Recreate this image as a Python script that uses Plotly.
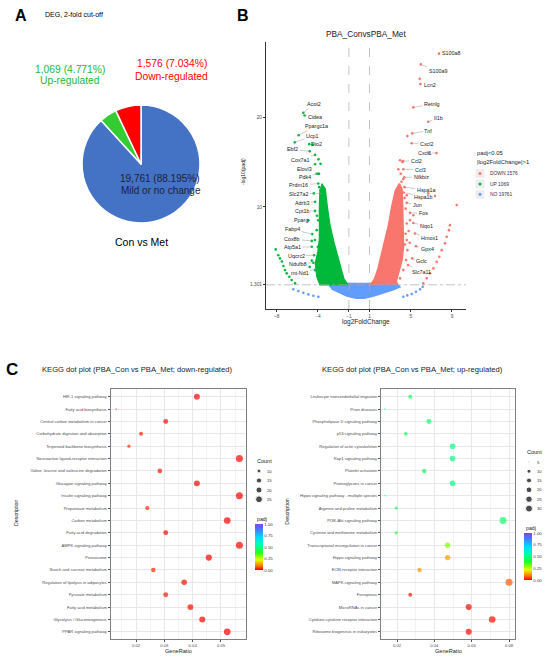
import plotly.graph_objects as go

W, H = 550, 657
FONT = "Liberation Sans, Arial, sans-serif"


def px(x):
    return x / W


def py(y):
    return 1 - y / H


# ---------------- A: DEG pie ----------------
pie_labels = ["Mild or no change", "Up-regulated", "Down-regulated"]
pie_values = [19761, 1069, 1576]
pie_pct = ["88.195%", "4.771%", "7.034%"]
pie_colors = ["#4472C4", "#33CC33", "#FF0000"]

# ---------------- B: volcano ----------------
red_gene_names = ["S100a8", "S100a9", "Lcn2", "Retnlg", "Il1b", "Tnf", "Cxcl2", "Cxcl1", "Ccl2", "Ccl3",
                  "Nfkbiz", "Hspa1a", "Hspa1b", "Jun", "Fos", "Nqo1", "Hmox1", "Gpx4", "Gclc", "Slc7a11"]
red_gene_x = [7.74, 5.97, 5.93, 5.25, 6.70, 5.15, 5.09, 7.50, 4.25, 4.28,
              4.38, 4.40, 4.30, 4.61, 4.93, 5.25, 5.41, 5.51, 5.15, 4.74]
red_gene_y = [27.1, 25.9, 23.7, 21.1, 19.5, 18.2, 17.1, 16.0, 15.1, 14.2,
              13.3, 12.2, 11.6, 10.45, 9.33, 8.2, 7.03, 5.6, 4.25, 3.5]

green_gene_names = ["Acot2", "Cidea", "Ppargc1a", "Ucp1", "Dio2", "Ebf2", "Cox7a1", "Elovl3", "Pdk4", "Prdm16",
                    "Slc27a2", "Adrb3", "Cpt1b", "Pparg", "Fabp4", "Cox8b", "Atp5a1", "Uqcrc2", "Ndufb8", "mt-Nd1"]
green_gene_x = [-5.42, -5.30, -5.87, -6.25, -4.84, -4.80, -4.28, -4.28, -3.97, -3.97,
                -3.54, -4.28, -4.28, -4.93, -4.55, -4.60, -4.60, -4.38, -4.45, -4.12]
green_gene_y = [20.5, 20.2, 18.0, 17.2, 17.0, 16.2, 15.8, 14.76, 13.7, 12.6,
                11.5, 10.56, 9.55, 8.5, 6.96, 6.2, 5.54, 4.6, 3.76, 3.1]

# sparse points
red_pts_x = [5.87, 4.67, 6.75, 3.96, 4.19, 3.80, 4.03, 4.28, 4.10, 6.70, 7.35, 4.61, 4.40, 4.50, 9.46,
             5.25, 4.93, 4.61, 4.80, 4.50, 4.90, 4.45, 4.61, 4.67, 4.54, 4.28, 3.96, 3.64,
             8.80, 8.71, 8.49, 8.33, 8.00, 7.77, 7.52, 7.20, 6.87, 6.55, 6.22]
red_pts_y = [24.3, 17.9, 16.0, 15.2, 15.0, 14.2, 13.7, 13.1, 12.8, 11.5, 11.2, 11.3, 11.0, 9.8, 10.2,
             9.07, 8.5, 8.15, 7.3, 7.0, 6.0, 5.8, 6.3, 5.17, 4.06, 2.94, 2.02, 1.46,
             7.96, 7.4, 6.65, 5.92, 5.17, 4.43, 3.87, 3.13, 2.58, 2.02, 1.46]
green_pts_x = [-4.51, -3.75, -3.95, -4.12, -3.90, -3.87, -4.40, -3.80, -4.10, -3.97, -4.12, -4.30,
               -4.02, -4.60, -4.80, -4.28, -3.97, -3.64,
               -8.10, -7.85, -7.68, -7.50, -7.35, -7.20, -7.03, -6.78, -6.55, -6.22]
green_pts_y = [16.96, 14.8, 15.3, 13.7, 13.7, 12.2, 11.5, 9.55, 9.0, 8.5, 7.4, 6.3,
               5.54, 4.0, 3.3, 2.94, 2.2, 1.46,
               5.25, 4.6, 4.25, 3.9, 3.4, 2.94, 2.58, 2.2, 1.83, 1.46]
blue_pts_x = [-6.39, -5.90, -5.42, -4.93, -4.45, -3.96, 4.28, 4.67, 5.09, 5.51, 5.90, 6.16]
blue_pts_y = [0.80, 0.60, 0.41, 0.23, 0.08, -0.03, -0.03, 0.12, 0.27, 0.53, 0.80, 1.08]

# outlines of the dense point clouds
green_cloud_x = [-3.65, -3.30, -3.10, -2.85, -2.45, -2.10, -1.80, -1.50, -1.10, -3.80, -4.10, -4.25,
                 -4.00, -3.85, -3.85, -3.80]
green_cloud_y = [12.6, 12.0, 10.0, 8.0, 6.0, 4.5, 3.0, 2.0, 1.3, 1.3, 2.2, 3.7, 5.0, 6.5, 10.0, 12.0]
red_cloud_x = [1.10, 1.50, 1.80, 2.10, 2.45, 2.85, 3.15, 3.50, 3.90, 4.15, 4.22, 4.30, 4.30, 4.15, 3.80, 3.50]
red_cloud_y = [1.3, 2.0, 3.0, 4.5, 6.0, 8.0, 10.0, 11.8, 12.6, 12.0, 10.0, 7.5, 5.5, 4.0, 2.5, 1.3]
blue_cloud_x = [-2.90, -2.65, 3.65, 3.95, 3.30, 2.40, 1.40, 0.50, -0.30, -1.20, -2.00, -2.70]
blue_cloud_y = [1.10, 1.45, 1.45, 1.05, 0.75, 0.40, 0.05, -0.20, -0.20, 0.05, 0.45, 0.85]

volcano_legend = ["DOWN 1576", "UP 1069", "NO 19761"]
volcano_colors = ["#F8766D", "#00B83A", "#619CFF"]

# ---------------- C: KEGG dot plots ----------------
down_terms = ["HIF-1 signaling pathway", "Fatty acid biosynthesis", "Central carbon metabolism in cancer",
              "Carbohydrate digestion and absorption", "Terpenoid backbone biosynthesis",
              "Neuroactive ligand-receptor interaction", "Valine, leucine and isoleucine degradation",
              "Glucagon signaling pathway", "Insulin signaling pathway", "Propanoate metabolism",
              "Carbon metabolism", "Fatty acid degradation", "AMPK signaling pathway", "Peroxisome",
              "Starch and sucrose metabolism", "Regulation of lipolysis in adipocytes", "Pyruvate metabolism",
              "Fatty acid metabolism", "Glycolysis / Gluconeogenesis", "PPAR signaling pathway"]
down_ratio = [0.0415, 0.0130, 0.0305, 0.0218, 0.0175, 0.0565, 0.0284, 0.0415, 0.0565, 0.0240,
              0.0522, 0.0305, 0.0565, 0.0457, 0.0261, 0.0370, 0.0305, 0.0392, 0.0434, 0.0522]
down_count = [19, 6, 14, 10, 8, 26, 13, 19, 26, 11, 24, 14, 26, 21, 12, 17, 14, 18, 20, 24]
down_padj = [0.004, 0.03, 0.01, 0.02, 0.03, 0.001, 0.02, 0.003, 0.0005, 0.03,
             0.0002, 0.01, 0.0003, 0.002, 0.03, 0.01, 0.02, 0.005, 0.002, 0.0001]

up_terms = ["Leukocyte transendothelial migration", "Prion diseases", "Phospholipase D signaling pathway",
            "p53 signaling pathway", "Regulation of actin cytoskeleton", "Rap1 signaling pathway",
            "Platelet activation", "Proteoglycans in cancer", "Hippo signaling pathway - multiple species",
            "Arginine and proline metabolism", "PI3K-Akt signaling pathway", "Cysteine and methionine metabolism",
            "Transcriptional misregulation in cancer", "Hippo signaling pathway", "ECM-receptor interaction",
            "MAPK signaling pathway", "Ferroptosis", "MicroRNAs in cancer", "Cytokine-cytokine receptor interaction",
            "Ribosome biogenesis in eukaryotes"]
up_ratio = [0.0271, 0.0135, 0.0371, 0.0247, 0.0498, 0.0498, 0.0346, 0.0498, 0.0135, 0.0196,
            0.0768, 0.0196, 0.0471, 0.0471, 0.0321, 0.0800, 0.0271, 0.0584, 0.0710, 0.0584]
up_count = [10, 5, 14, 9, 19, 19, 13, 19, 5, 7, 29, 7, 18, 18, 12, 30, 10, 22, 27, 22]
up_padj = [0.47, 0.55, 0.47, 0.47, 0.50, 0.50, 0.47, 0.50, 0.55, 0.45,
           0.47, 0.42, 0.30, 0.13, 0.12, 0.07, 0.02, 0.01, 0.01, 0.005]

down_size_legend = [10, 15, 20, 25]
up_size_legend = [5, 10, 15, 20, 25, 30]
padj_ticks = [0, 0.25, 0.5, 0.75, 1.0]

RAINBOW = [[0, "#FF0000"], [0.1, "#FF8000"], [0.22, "#E0FF00"], [0.38, "#20FF20"],
           [0.55, "#00FFB0"], [0.72, "#00D8FF"], [0.87, "#4080FF"], [1, "#8040FF"]]


def dot_size(c, cmin, cmax, dmin=1.5, dmax=7.0):
    # ggplot-style area scale
    return dmin + (dmax - dmin) * ((c - cmin) / (cmax - cmin)) ** 0.5


fig = go.Figure()

# ---- pie
fig.add_trace(go.Pie(
    labels=pie_labels, values=pie_values, sort=False, direction="clockwise", rotation=0,
    marker=dict(colors=pie_colors, line=dict(color="white", width=1.5)),
    textinfo="none", hoverinfo="skip", showlegend=False,
    domain=dict(x=[px(82), px(200)], y=[py(223), py(105)]),
))

# ---- volcano clouds + points
for cx, cy, col in [(blue_cloud_x, blue_cloud_y, volcano_colors[2]),
                    (green_cloud_x, green_cloud_y, volcano_colors[1]),
                    (red_cloud_x, red_cloud_y, volcano_colors[0])]:
    fig.add_trace(go.Scatter(x=cx, y=cy, fill="toself", mode="lines", fillcolor=col,
                             line=dict(color=col, width=1.5), hoverinfo="skip", showlegend=False,
                             xaxis="x", yaxis="y"))

for xs, ys, col in [(blue_pts_x, blue_pts_y, volcano_colors[2]),
                    (green_pts_x + green_gene_x, green_pts_y + green_gene_y, volcano_colors[1]),
                    (red_pts_x + red_gene_x, red_pts_y + red_gene_y, volcano_colors[0])]:
    fig.add_trace(go.Scatter(x=xs, y=ys, mode="markers", marker=dict(color=col, size=2.6),
                             hoverinfo="skip", showlegend=False, xaxis="x", yaxis="y"))

# ---- KEGG dot plots
for terms, ratio, count, padj, ax, ay, cbx, cby, cblen, sizes in [
    (down_terms, down_ratio, down_count, down_padj, "x2", "y2", 254.5, 570, 46, (min(down_count), max(down_count))),
    (up_terms, up_ratio, up_count, up_padj, "x3", "y3", 524.3, 580, 47, (min(up_count), max(up_count))),
]:
    fig.add_trace(go.Scatter(
        x=ratio, y=terms, mode="markers", xaxis=ax, yaxis=ay, showlegend=False, hoverinfo="skip",
        marker=dict(size=[dot_size(c, *sizes) for c in count], color=padj, cmin=0, cmax=1,
                    colorscale=RAINBOW, showscale=True, line=dict(width=0),
                    colorbar=dict(x=px(cbx), xanchor="left", y=py(cby), yanchor="bottom",
                                  len=cblen / H, lenmode="fraction", thickness=7.5, thicknessmode="pixels",
                                  xpad=0, ypad=0, outlinewidth=0, ticks="",
                                  tickvals=padj_ticks, ticktext=[f"{v:.2f}" for v in padj_ticks],
                                  tickfont=dict(size=4.3, color="#333", family=FONT))),
    ))

# ---- legend keys (overlay in pixel coordinates)
leg_x = [480, 480, 480]
leg_y = [173.5, 184, 194.3]
fig.add_trace(go.Scatter(x=leg_x, y=leg_y, mode="markers", xaxis="x4", yaxis="y4",
                         marker=dict(symbol="square", size=9, color="#EDEDED"),
                         hoverinfo="skip", showlegend=False))
fig.add_trace(go.Scatter(x=leg_x, y=leg_y, mode="markers", xaxis="x4", yaxis="y4",
                         marker=dict(size=3, color=volcano_colors), hoverinfo="skip", showlegend=False))
fig.add_trace(go.Scatter(x=[259] * len(down_size_legend), y=[471, 480.5, 490, 499.3], mode="markers",
                         xaxis="x4", yaxis="y4", hoverinfo="skip", showlegend=False,
                         marker=dict(color="black", size=[dot_size(c, min(down_count), max(down_count))
                                                          for c in down_size_legend])))
fig.add_trace(go.Scatter(x=[529] * len(up_size_legend), y=[462, 471.3, 480.5, 489.8, 499.2, 508.6], mode="markers",
                         xaxis="x4", yaxis="y4", hoverinfo="skip", showlegend=False,
                         marker=dict(color="black", size=[dot_size(c, min(up_count), max(up_count))
                                                          for c in up_size_legend])))

# ---- annotations
ann = []


def text(t, x, y, size, color="#222", xanchor="center", **kw):
    ann.append(dict(text=t, x=px(x), y=py(y), xref="paper", yref="paper", showarrow=False,
                    xanchor=xanchor, yanchor="middle", font=dict(size=size, color=color, family=FONT), **kw))


text("<b>A</b>", 21, 15.5, 16, "black")
text("<b>B</b>", 243, 15.5, 16, "black")
text("<b>C</b>", 11.5, 369, 17, "black")
text("DEG, 2-fold cut-off", 43, 14.7, 7, "black", xanchor="left")

text(f"{pie_values[1]:,} ({pie_pct[1]})", 70, 69.3, 10.3, "#22B83A")
text(pie_labels[1], 70, 80.7, 10.3, "#22B83A")
text(f"{pie_values[2]:,} ({pie_pct[2]})", 171.7, 63.3, 10.3, "#FF0000")
text(pie_labels[2], 171.7, 76.3, 10.3, "#FF0000")
text(f"{pie_values[0]:,} ({pie_pct[0]})", 159.5, 178, 10, "#1B2340")
text(pie_labels[0], 160.5, 191, 10, "#1B2340")
text("Con vs Met", 141, 242, 10.5, "black")

text("PBA_ConvsPBA_Met", 366, 34, 8.3, "#222")
text("log2FoldChange", 366, 322, 6.5, "#222")
text("-log10(padj)", 243, 172, 5, "#222", textangle=-90)
text("padj<0.05", 475, 153, 5.8, "#222", xanchor="left")
text("|log2FoldChange|>1", 475, 162, 5.8, "#222", xanchor="left")
for lab, yy in zip(volcano_legend, leg_y):
    text(lab, 488, yy, 4.9, "#333", xanchor="left")

text("KEGG dot plot (PBA_Con vs PBA_Met; down-regulated)", 137, 369, 7.6, "#222")
text("KEGG dot plot (PBA_Con vs PBA_Met; up-regulated)", 412.5, 369, 7.6, "#222")
text("GeneRatio", 178, 650.5, 5.6, "#222")
text("GeneRatio", 448, 650.5, 5.6, "#222")
text("Description", 16, 513, 5.3, "#222", textangle=-90)
text("Description", 286.7, 511, 5.3, "#222", textangle=-90)
text("Count", 255, 461, 5.5, "#222", xanchor="left")
for c, yy in zip(down_size_legend, [471, 480.5, 490, 499.3]):
    text(str(c), 265, yy, 4.2, "#333", xanchor="left")
text("Count", 525, 452.3, 5.5, "#222", xanchor="left")
for c, yy in zip(up_size_legend, [462, 471.3, 480.5, 489.8, 499.2, 508.6]):
    text(str(c), 535, yy, 4.2, "#333", xanchor="left")
text("padj", 254.5, 518.5, 5.2, "#222", xanchor="left")
text("padj", 524.3, 527.5, 5.2, "#222", xanchor="left")

# gene labels (label centres in data units)
red_label_pos = [(8.93, 27.17), (7.65, 25.13), (6.82, 23.57), (7.06, 21.48), (7.69, 19.92), (6.72, 18.52),
                 (6.53, 17.07), (6.29, 16.02), (5.51, 15.13), (5.90, 14.17), (6.00, 13.31), (6.48, 11.86),
                 (6.24, 11.11), (5.61, 10.19), (6.19, 9.30), (6.48, 7.85), (6.82, 6.51), (6.58, 5.25),
                 (6.09, 3.98), (6.04, 2.75)]
green_label_pos = [(-4.38, 21.48), (-4.24, 20.08), (-4.14, 19.0), (-4.53, 17.92), (-4.19, 17.07),
                   (-6.47, 16.43), (-5.74, 15.2), (-5.26, 14.24), (-5.26, 13.34), (-5.84, 12.42),
                   (-5.84, 11.49), (-5.50, 10.45), (-5.59, 9.55), (-5.64, 8.52), (-6.47, 7.48),
                   (-6.47, 6.4), (-6.47, 5.47), (-6.13, 4.54), (-5.98, 3.65), (-5.79, 2.64)]
for names, gx, gy, pos in [(red_gene_names, red_gene_x, red_gene_y, red_label_pos),
                           (green_gene_names, green_gene_x, green_gene_y, green_label_pos)]:
    for n, x0, y0, (lx, ly) in zip(names, gx, gy, pos):
        ann.append(dict(text=n, x=x0, y=y0, xref="x", yref="y", ax=lx, ay=ly, axref="x", ayref="y",
                        showarrow=True, arrowhead=0, arrowwidth=0.5, arrowcolor="#999", standoff=0,
                        font=dict(size=5.4, color="#222", family=FONT)))

shapes = [
    dict(type="line", xref="x", yref="y domain", x0=-1, x1=-1, y0=0, y1=1,
         line=dict(color="#AAAAAA", width=0.7, dash="dash")),
    dict(type="line", xref="x", yref="y domain", x0=1, x1=1, y0=0, y1=1,
         line=dict(color="#AAAAAA", width=0.7, dash="dash")),
    dict(type="line", xref="x domain", yref="y", x0=0, x1=1, y0=1.301, y1=1.301,
         line=dict(color="#AAAAAA", width=0.7, dash="dashdot")),
]

tick_font = dict(size=4.8, color="#4D4D4D", family=FONT)
dot_xaxis = dict(showline=True, mirror=True, linecolor="#7F7F7F", linewidth=1, ticks="outside", ticklen=2,
                 tickcolor="#555", tickfont=dict(size=4.2, color="#4D4D4D", family=FONT), zeroline=False,
                 showgrid=True, gridcolor="#E8E8E8", gridwidth=0.8, tickformat=".2f")
dot_yaxis = dict(type="category", showline=True, mirror=True, linecolor="#7F7F7F", linewidth=1,
                 ticks="outside", ticklen=2, tickcolor="#555", showgrid=True, gridcolor="#E8E8E8",
                 gridwidth=0.8, tickfont=dict(size=4.1, color="#4D4D4D", family=FONT),
                 range=[19.6, -0.6], categoryorder="array")

fig.update_layout(
    width=W, height=H, margin=dict(l=0, r=0, t=0, b=0),
    paper_bgcolor="white", plot_bgcolor="rgba(0,0,0,0)",
    font=dict(family=FONT),
    annotations=ann, shapes=shapes,
    xaxis=dict(domain=[px(266), px(466)], range=[-9.04, 10.36], anchor="y", showline=True,
               linecolor="#333", linewidth=1, ticks="outside", ticklen=2, tickcolor="#333",
               tickvals=[-8, -4, -1, 1, 5, 9], tickfont=tick_font, showgrid=False, zeroline=False),
    yaxis=dict(domain=[py(309), py(42)], range=[-1.4, 28.4], anchor="x", showline=True,
               linecolor="#333", linewidth=1, ticks="outside", ticklen=2, tickcolor="#333",
               tickvals=[1.301, 10, 20], ticktext=["1.301", "10", "20"], tickfont=tick_font,
               showgrid=False, zeroline=False),
    xaxis2=dict(dot_xaxis, domain=[px(110.7), px(245.7)], range=[0.01106, 0.05873], anchor="y2",
                tick0=0, dtick=0.01,
                minor=dict(tick0=0, dtick=0.005, showgrid=True, gridcolor="#F4F4F4", gridwidth=0.5)),
    yaxis2=dict(dot_yaxis, domain=[py(639.3), py(389.3)], anchor="x2", categoryarray=down_terms),
    xaxis3=dict(dot_xaxis, domain=[px(381), px(515)], range=[0.01143, 0.0832], anchor="y3",
                tick0=0, dtick=0.02,
                minor=dict(tick0=0, dtick=0.01, showgrid=True, gridcolor="#F4F4F4", gridwidth=0.5)),
    yaxis3=dict(dot_yaxis, domain=[py(639.3), py(389.3)], anchor="x3", categoryarray=up_terms),
    xaxis4=dict(domain=[0, 1], range=[0, W], visible=False, anchor="y4"),
    yaxis4=dict(domain=[0, 1], range=[H, 0], visible=False, anchor="x4"),
)

# the page body has a default 8px margin; drop it so the figure fills the window
fig.write_html("out.html", config={"displayModeBar": False},
               post_script="document.body.style.margin='0';")
